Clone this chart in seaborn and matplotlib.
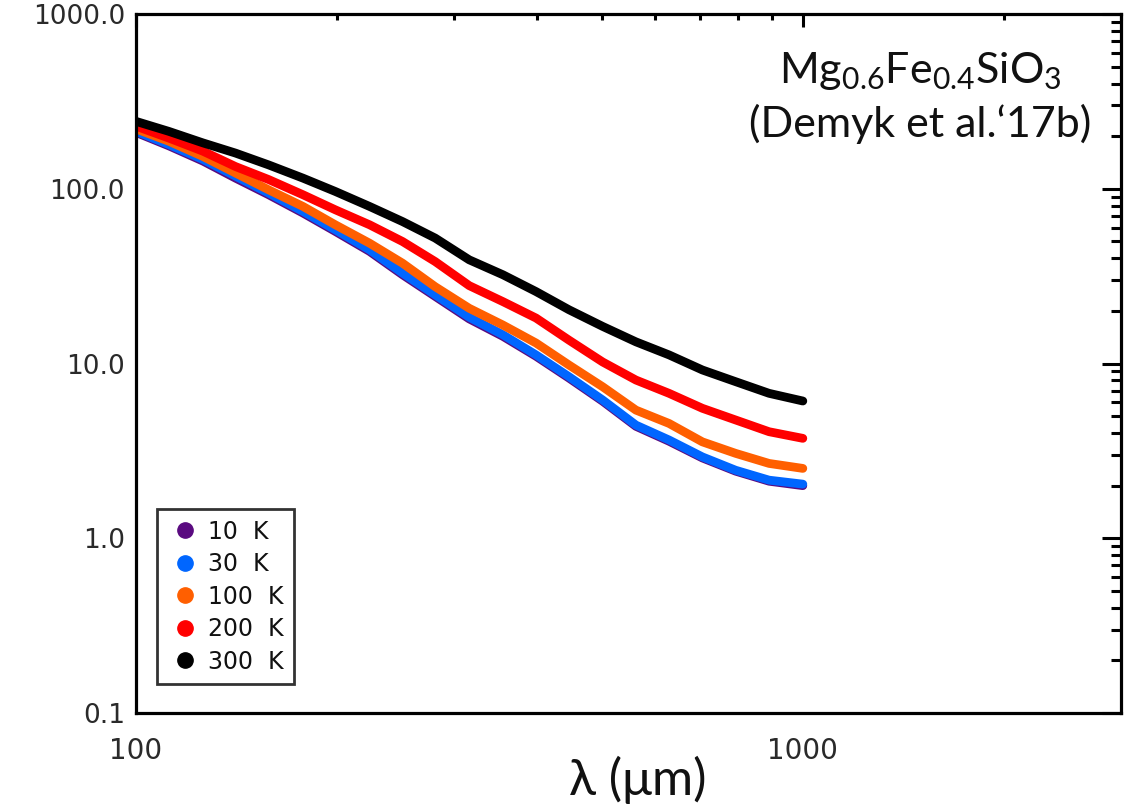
import matplotlib
matplotlib.use("Agg")
import matplotlib.pyplot as plt
from matplotlib.lines import Line2D
from matplotlib.ticker import FixedLocator, FixedFormatter, NullFormatter
import seaborn as sns
import pandas as pd

# ---- data ----
wavelength = [100, 112, 126, 141, 158, 178, 199, 224, 251, 281, 316,
              355, 398, 446, 501, 562, 630, 707, 793, 890, 1000]
k10 = [210, 176, 144, 115, 92.5, 72.6, 57.0, 43.8, 32.2, 24.2, 18.0,
       14.3, 11.0, 8.25, 6.08, 4.37, 3.59, 2.88, 2.42, 2.12, 2.00]
k30 = [213, 179, 147, 118, 94.5, 74.1, 58.2, 44.7, 32.9, 24.7, 18.4,
       14.6, 11.2, 8.40, 6.18, 4.44, 3.65, 2.92, 2.45, 2.15, 2.04]
k100 = [220, 187, 153, 123, 98.7, 79.2, 62.2, 48.8, 37.5, 27.5, 20.7,
        16.6, 13.1, 9.80, 7.36, 5.41, 4.54, 3.56, 3.06, 2.68, 2.51]
k200 = [228, 195, 164, 134, 113, 92.4, 75.8, 62.2, 49.9, 38.3, 27.9,
        22.6, 18.2, 13.6, 10.2, 8.04, 6.75, 5.54, 4.75, 4.07, 3.73]
k300 = [243, 213, 183, 160, 137, 115, 96.5, 79.2, 64.9, 52.2, 39.2,
        32.2, 25.8, 20.3, 16.3, 13.3, 11.2, 9.18, 7.87, 6.75, 6.10]

labels = ["10  K", "30  K", "100  K", "200  K", "300  K"]
colors = ["#5a0a80", "#0066ff", "#ff5f00", "#ff0000", "#000000"]
series = [k10, k30, k100, k200, k300]

x_ticks = [100, 1000]
x_ticklabels = ["100", "1000"]
y_ticks = [0.1, 1, 10, 100, 1000]
y_ticklabels = ["0.1", "1.0", "10.0", "100.0", "1000.0"]

title1 = r"Mg$_\mathregular{0.6}$Fe$_\mathregular{0.4}$SiO$_\mathregular{3}$"
title2 = "(Demyk et al.\u201817b)"
xlabel = "\u03bb (\u03bcm)"

# ---- long table ----
rows = []
for lab, vals in zip(labels, series):
    for w, v in zip(wavelength, vals):
        rows.append({"wavelength": w, "value": v, "T": lab})
df = pd.DataFrame(rows)

sns.set_style("white")
plt.rcParams["font.family"] = ["DejaVu Sans"]
plt.rcParams["mathtext.fontset"] = "custom"
plt.rcParams["mathtext.rm"] = "Lato"

fig = plt.figure(figsize=(11.41, 8.11), dpi=100)
ax = fig.add_axes([136 / 1141, 1 - 713 / 811, (1121 - 136) / 1141, (713 - 14) / 811])

sns.lineplot(data=df, x="wavelength", y="value", hue="T", hue_order=labels,
             palette=dict(zip(labels, colors)), linewidth=6.3, legend=False,
             sort=False, ax=ax, solid_capstyle="round", solid_joinstyle="round",
             estimator=None)

ax.set_xscale("log")
ax.set_yscale("log")
ax.set_xlim(100, 3000)
ax.set_ylim(0.1, 1000)

ax.xaxis.set_major_locator(FixedLocator(x_ticks))
ax.xaxis.set_major_formatter(FixedFormatter(x_ticklabels))
ax.xaxis.set_minor_locator(FixedLocator([200, 300, 400, 500, 600, 700, 800, 900, 2000, 3000]))
ax.xaxis.set_minor_formatter(NullFormatter())
ax.yaxis.set_major_locator(FixedLocator(y_ticks))
ax.yaxis.set_major_formatter(FixedFormatter(y_ticklabels))
minor_y = [m * 10.0 ** e for e in range(-1, 3) for m in range(2, 10)]
ax.yaxis.set_minor_locator(FixedLocator(minor_y))
ax.yaxis.set_minor_formatter(NullFormatter())

for s in ax.spines.values():
    s.set_visible(True)
    s.set_linewidth(2.3)
    s.set_color("black")

ax.tick_params(axis="both", which="both", direction="in", color="black",
               top=True, right=True, width=2.2)
ax.tick_params(axis="y", which="major", length=13.5, pad=8, labelsize=19, labelcolor="#2a2a2a")
ax.tick_params(axis="y", which="minor", length=7)
ax.tick_params(axis="x", which="major", length=9, pad=17, labelsize=20, labelcolor="#2a2a2a")
ax.tick_params(axis="x", which="minor", length=4)

ax.set_xlabel(xlabel, fontsize=36, fontfamily="Lato", color="#111111")
ax.xaxis.set_label_coords((638 - 136) / 985, (713 - 795) / 699)
ax.xaxis.label.set_va("baseline")
ax.set_ylabel("")

cx = (920 - 136) / 985
ax.text(cx, (713 - 83) / 699, title1, transform=ax.transAxes, ha="center",
        va="baseline", fontsize=31, fontfamily="Lato", color="#111111")
ax.text(cx, (713 - 137) / 699, title2, transform=ax.transAxes, ha="center",
        va="baseline", fontsize=31, fontfamily="Lato", color="#111111")

handles = [Line2D([], [], linestyle="none", marker="o", markersize=11,
                  markerfacecolor=c, markeredgecolor=c) for c in colors]
leg = ax.legend(handles, labels, loc="upper left",
                bbox_to_anchor=((157 - 136) / 985, (713 - 509) / 699),
                borderaxespad=0, frameon=True, fancybox=False, fontsize=17,
                handlelength=1.5, handletextpad=0.2, labelspacing=0.36,
                borderpad=0.45)
leg.get_frame().set_edgecolor("black")
leg.get_frame().set_linewidth(2.0)
for t in leg.get_texts():
    t.set_color("#111111")

fig.savefig("out.png", dpi=100)
